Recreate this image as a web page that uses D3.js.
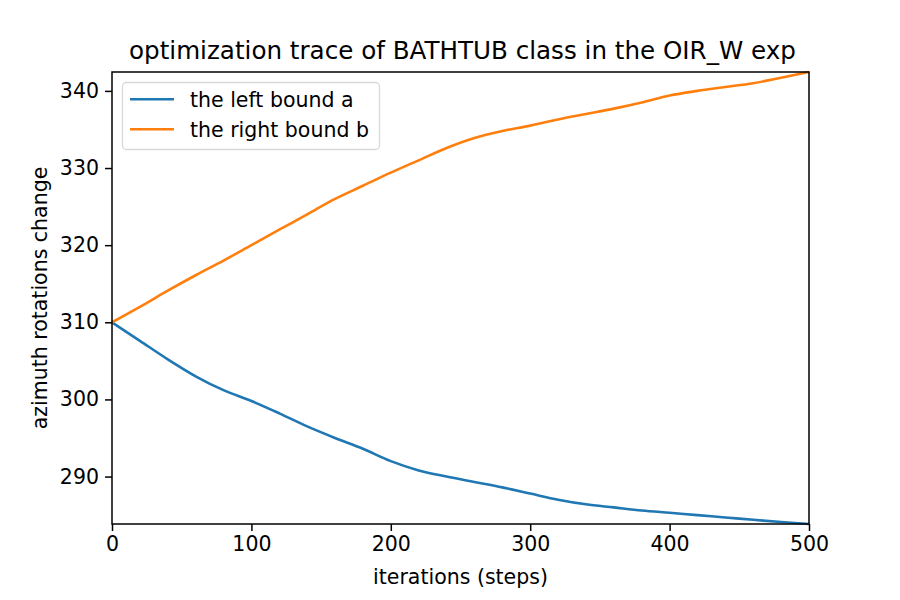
<!DOCTYPE html>
<html>
<head>
<meta charset="utf-8">
<script src="https://cdn.jsdelivr.net/npm/d3@7"></script>
<style>
  body { margin: 0; background: #fff; }
  text { font-family: "DejaVu Sans", sans-serif; fill: #000; }
</style>
</head>
<body>
<script>
const width = 900;
const height = 600;

// iterations (steps)
const steps = [0, 20, 40, 60, 80, 100, 120, 140, 160, 180, 200, 220, 240,
  260, 280, 300, 320, 340, 360, 380, 400, 420, 440, 460, 480, 500];
const leftBound = [310.0, 307.6, 305.2, 303.0, 301.2, 299.8, 298.2, 296.5, 295.0,
  293.6, 292.0, 290.8, 290.0, 289.3, 288.6, 287.8, 287.0, 286.4, 286.0, 285.6,
  285.3, 285.0, 284.7, 284.4, 284.1, 283.85];
const rightBound = [310.0, 312.0, 314.1, 316.1, 318.0, 320.0, 322.0, 324.0, 326.0,
  327.7, 329.4, 331.0, 332.6, 333.9, 334.8, 335.5, 336.3, 337.0, 337.7, 338.5,
  339.4, 340.0, 340.5, 341.0, 341.7, 342.45];
const xTicks = [0, 100, 200, 300, 400, 500];
const yTicks = [290, 300, 310, 320, 330, 340];
const seriesNames = ['the left bound a', 'the right bound b'];
const colors = ['#1f77b4', '#ff7f0e'];

const margin = { left: 112, right: 91, top: 72, bottom: 76 };

function init() {
  const svg = d3.select('body')
    .append('svg')
    .attr('width', width)
    .attr('height', height);

  const x = d3.scaleLinear()
    .domain([0, 500])
    .range([margin.left, width - margin.right]);

  const y = d3.scaleLinear()
    .domain([d3.min(leftBound), d3.max(rightBound)])
    .range([height - margin.bottom, margin.top]);

  const line = d3.line()
    .x(d => x(d[0]))
    .y(d => y(d[1]))
    .curve(d3.curveMonotoneX);

  const series = [leftBound, rightBound];

  svg.append('g')
    .selectAll('path')
    .data(series)
    .join('path')
    .attr('fill', 'none')
    .attr('stroke', (d, i) => colors[i])
    .attr('stroke-width', 2.6)
    .attr('stroke-linejoin', 'round')
    .attr('d', d => line(steps.map((s, i) => [s, d[i]])));

  // axes
  const xAxis = svg.append('g')
    .attr('transform', `translate(0, ${height - margin.bottom})`)
    .call(d3.axisBottom(x).tickValues(xTicks).tickSize(7).tickPadding(5));

  const yAxis = svg.append('g')
    .attr('transform', `translate(${margin.left}, 0)`)
    .call(d3.axisLeft(y).tickValues(yTicks).tickSize(7).tickPadding(6));

  [xAxis, yAxis].forEach(a => {
    a.select('.domain').remove();
    a.selectAll('line').attr('stroke', '#000').attr('stroke-width', 1.5);
    a.selectAll('text')
      .style('font-family', '"DejaVu Sans", sans-serif')
      .style('font-size', '20.5px')
      .attr('fill', '#000');
  });

  // frame
  svg.append('rect')
    .attr('x', margin.left)
    .attr('y', margin.top)
    .attr('width', width - margin.left - margin.right)
    .attr('height', height - margin.top - margin.bottom)
    .attr('fill', 'none')
    .attr('stroke', '#000')
    .attr('stroke-width', 1.5);

  // labels
  svg.append('text')
    .attr('x', (margin.left + width - margin.right) / 2 + 2)
    .attr('y', 59)
    .attr('text-anchor', 'middle')
    .style('font-size', '24.6px')
    .text('optimization trace of BATHTUB class in the OIR_W exp');

  svg.append('text')
    .attr('x', (margin.left + width - margin.right) / 2)
    .attr('y', 584)
    .attr('text-anchor', 'middle')
    .style('font-size', '20.5px')
    .text('iterations (steps)');

  svg.append('text')
    .attr('transform', `translate(47, ${(margin.top + height - margin.bottom) / 2}) rotate(-90)`)
    .attr('text-anchor', 'middle')
    .style('font-size', '20.5px')
    .text('azimuth rotations change');

  // legend
  const legend = svg.append('g')
    .attr('transform', 'translate(122.5, 82.5)');

  legend.append('rect')
    .attr('width', 257)
    .attr('height', 67)
    .attr('rx', 4)
    .attr('fill', '#fff')
    .attr('fill-opacity', 0.8)
    .attr('stroke', '#d9d9d9')
    .attr('stroke-width', 1.3);

  const items = legend.selectAll('g.item')
    .data(seriesNames)
    .join('g')
    .attr('class', 'item')
    .attr('transform', (d, i) => `translate(0, ${16.8 + i * 30})`);

  items.append('line')
    .attr('x1', 7.5)
    .attr('x2', 51.5)
    .attr('stroke', (d, i) => colors[i])
    .attr('stroke-width', 2.6);

  items.append('text')
    .attr('x', 67.5)
    .attr('y', 7.3)
    .style('font-size', '20.5px')
    .text(d => d);
}

init();
</script>
</body>
</html>
